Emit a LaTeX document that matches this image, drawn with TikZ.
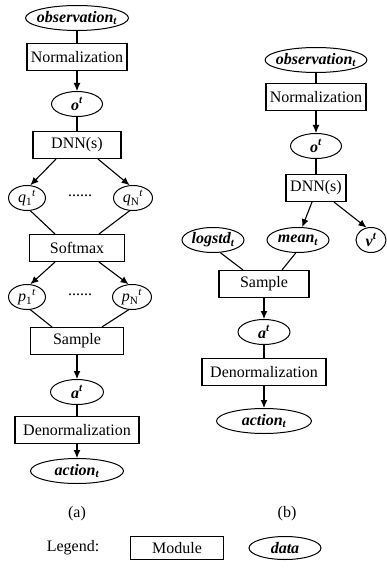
\documentclass[tikz,border=0pt]{standalone}
\usepackage{fontspec}
\setmainfont{Liberation Serif}
\usetikzlibrary{shapes.geometric,arrows.meta}

\begin{document}
\begin{tikzpicture}[x=1pt,y=-1pt,line width=1.1pt,
  >={Latex[length=8pt,width=7pt]},
  font=\fontsize{16}{19}\selectfont]
% Styles
\tikzset{module/.style={draw,rectangle,minimum height=27pt,inner sep=1pt},
  data/.style={draw,ellipse,line width=1pt,minimum height=25pt,inner xsep=-4pt,inner ysep=0pt,
    font=\fontsize{16}{19}\selectfont\bfseries\itshape},
  prob/.style={draw,ellipse,line width=1pt,minimum height=25pt,minimum width=37pt,inner sep=-1pt}}
\useasboundingbox (0,0) rectangle (387,572);
% (a) the discrete policy
\node[data,minimum width=103pt] (obsA) at (77,18) {observation\textsubscript{t}};
\node[module,minimum width=100pt] (normA) at (77,57) {Normalization};
\node[data,minimum width=51pt] (oA) at (77,104) {o\textsuperscript{t}};
\node[module,minimum width=88pt] (dnnA) at (77,145) {DNN(s)};
\node[prob] (q1) at (27,198) {\textit{q}\textsubscript{1}\textsuperscript{\textit{t}}};
\node (qdots) at (80,196) {......};
\node[prob,minimum width=39pt] (qN) at (133,198) {\textit{q}\textsubscript{N}\textsuperscript{\textit{t}}};
\node[module,minimum width=95pt] (softA) at (77,248) {Softmax};
\node[prob] (p1) at (27,297) {\textit{p}\textsubscript{1}\textsuperscript{\textit{t}}};
\node (pdots) at (80,295) {......};
\node[prob,minimum width=39pt] (pN) at (132,297) {\textit{p}\textsubscript{N}\textsuperscript{\textit{t}}};
\node[module,minimum width=93pt] (sampA) at (77,341) {Sample};
\node[data,minimum width=53pt] (aA) at (77,392) {a\textsuperscript{t}};
\node[module,minimum width=124pt] (denA) at (77,430) {Denormalization};
\node[data,minimum width=93pt] (actA) at (77,471) {action\textsubscript{t}};
\node (labA) at (77,514) {(a)};
% (b) the continuous policy
\node[data,minimum width=100pt] (obsB) at (316,60) {observation\textsubscript{t}};
\node[module,minimum width=100pt] (normB) at (316,97) {Normalization};
\node[data,minimum width=51pt] (oB) at (316,146) {o\textsuperscript{t}};
\node[module,minimum width=60pt] (dnnB) at (316,188) {DNN(s)};
\node[data,minimum width=62pt] (logstd) at (213,240) {logstd\textsubscript{t}};
\node[data,minimum width=62pt] (mean) at (298,240) {mean\textsubscript{t}};
\node[data,minimum width=30pt] (vB) at (371,240) {v\textsuperscript{t}};
\node[module,minimum width=90pt] (sampB) at (264,284) {Sample};
\node[data,minimum width=52pt] (aB) at (264,332) {a\textsuperscript{t}};
\node[module,minimum width=124pt] (denB) at (264,372) {Denormalization};
\node[data,minimum width=95pt] (actB) at (264,421) {action\textsubscript{t}};
\node (labB) at (287,514) {(b)};
% legend
\node (legend) at (73,548) {Legend:};
\node[module,minimum width=93pt,minimum height=23pt] (legmod) at (177,548) {Module};
\node[data,minimum width=72pt,minimum height=23pt] (legdata) at (285,548) {data};
% connectors of (a)
\draw (obsA) -- (normA);
\draw[->] (normA) -- (oA);
\draw (oA) -- (dnnA);
\draw[->] ([xshift=-21pt]dnnA.south) -- (q1.75);
\draw[->] ([xshift=21pt]dnnA.south) -- (qN.105);
\draw (q1.-75) -- ([xshift=-22pt]softA.north);
\draw (qN.-105) -- ([xshift=22pt]softA.north);
\draw[->] ([xshift=-22pt]softA.south) -- (p1.75);
\draw[->] ([xshift=22pt]softA.south) -- (pN.105);
\draw (p1.-75) -- ([xshift=-25pt]sampA.north);
\draw (pN.-105) -- ([xshift=25pt]sampA.north);
\draw[->] (sampA) -- (aA);
\draw (aA) -- (denA);
\draw[->] (denA) -- (actA);
% connectors of (b)
\draw (obsB) -- (normB);
\draw[->] (normB) -- (oB);
\draw (oB) -- (dnnB);
\draw[->] ([xshift=-4pt]dnnB.south) -- (mean.72);
\draw[->] ([xshift=18pt]dnnB.south) -- (vB.110);
\draw (logstd.-60) -- ([xshift=-21pt]sampB.north);
\draw (mean.-100) -- ([xshift=18pt]sampB.north);
\draw[->] (sampB) -- (aB);
\draw (aB) -- (denB);
\draw[->] (denB) -- (actB);
\end{tikzpicture}
\end{document}
